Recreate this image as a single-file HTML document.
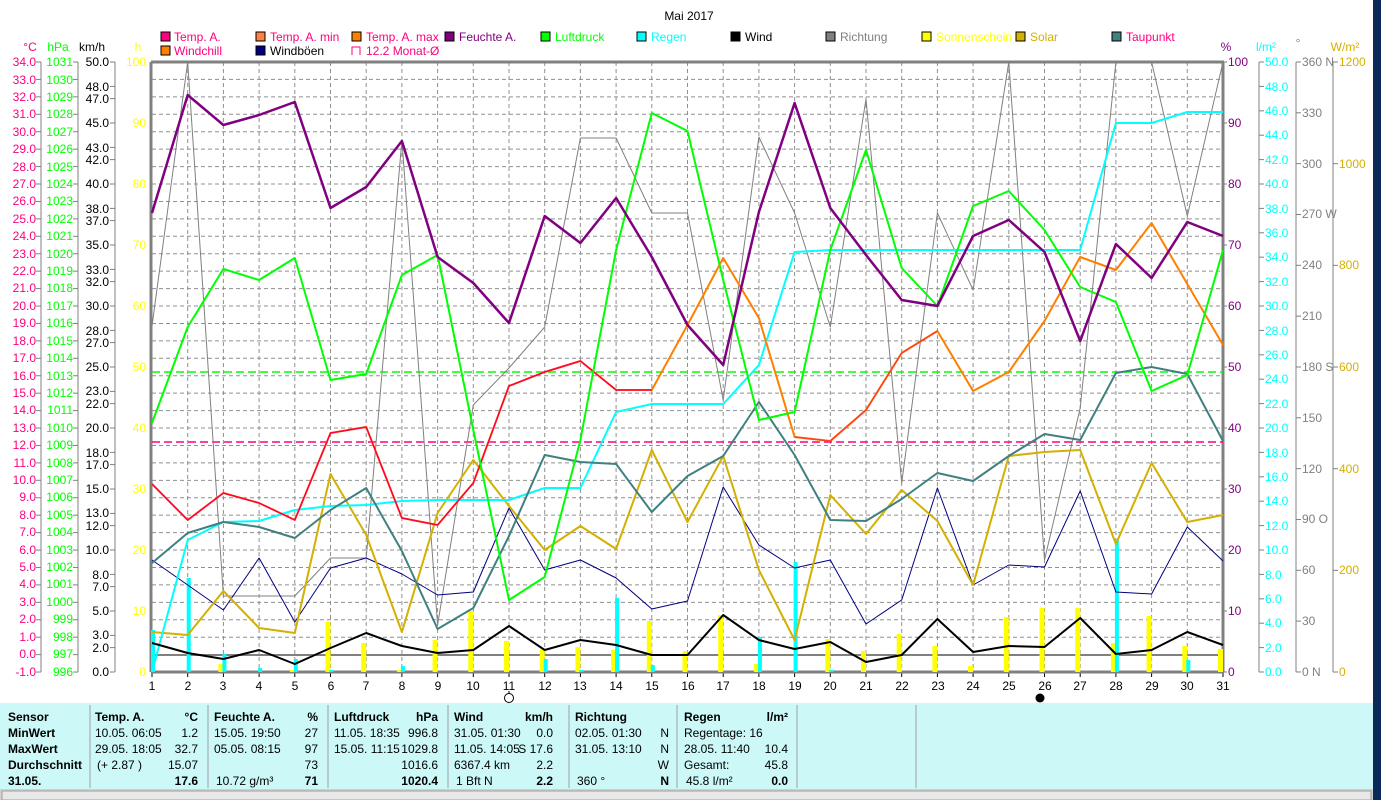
<!DOCTYPE html>
<html><head><meta charset="utf-8"><style>
html,body{margin:0;padding:0;background:#fff;width:1381px;height:800px;overflow:hidden}
svg{display:block}
text{font-family:"Liberation Sans",sans-serif;font-size:12px}
</style></head><body>
<svg id="s" width="1381" height="800" viewBox="0 0 1381 800" xmlns="http://www.w3.org/2000/svg">
<rect x="1373" y="0" width="8" height="800" fill="#0a2a5a"/>
<text x="689" y="20" text-anchor="middle" font-size="14">Mai 2017</text>
<g font-size="12">
<rect x="161" y="32" width="9" height="9" fill="#ff0080" stroke="#000"/><text x="174" y="41" fill="#ff0080">Temp. A.</text>
<rect x="256" y="32" width="9" height="9" fill="#ff8040" stroke="#000"/><text x="270" y="41" fill="#ff0080">Temp. A. min</text>
<rect x="352" y="32" width="9" height="9" fill="#ff8000" stroke="#000"/><text x="366" y="41" fill="#ff0080">Temp. A. max</text>
<rect x="445" y="32" width="9" height="9" fill="#800080" stroke="#000"/><text x="459" y="41" fill="#800080">Feuchte A.</text>
<rect x="541" y="32" width="9" height="9" fill="#00ff00" stroke="#000"/><text x="555" y="41" fill="#00ff00">Luftdruck</text>
<rect x="637" y="32" width="9" height="9" fill="#00ffff" stroke="#000"/><text x="651" y="41" fill="#00ffff">Regen</text>
<rect x="731" y="32" width="9" height="9" fill="#000" stroke="#000"/><text x="745" y="41" fill="#000">Wind</text>
<rect x="826" y="32" width="9" height="9" fill="#808080" stroke="#000"/><text x="840" y="41" fill="#808080">Richtung</text>
<rect x="922" y="32" width="9" height="9" fill="#ffff00" stroke="#000"/><text x="936" y="41" fill="#ffff00">Sonnenschein</text>
<rect x="1016" y="32" width="9" height="9" fill="#d4b000" stroke="#000"/><text x="1030" y="41" fill="#d4b000">Solar</text>
<rect x="1112" y="32" width="9" height="9" fill="#408080" stroke="#000"/><text x="1126" y="41" fill="#ff0080">Taupunkt</text>
<rect x="161" y="46" width="9" height="9" fill="#ff8000" stroke="#000"/><text x="174" y="55" fill="#ff0080">Windchill</text>
<rect x="256" y="46" width="9" height="9" fill="#000080" stroke="#000"/><text x="270" y="55" fill="#000">Windböen</text>
<path d="M352 55V47h8v8" fill="none" stroke="#ff0080"/><text x="366" y="55" fill="#ff0080">12.2 Monat-Ø</text>
</g>
<text x="30" y="51" text-anchor="middle" fill="#ff0080">°C</text>
<text x="58" y="51" text-anchor="middle" fill="#00ff00">hPa</text>
<text x="92" y="51" text-anchor="middle" fill="#000">km/h</text>
<text x="138" y="51" text-anchor="middle" fill="#ffff00">h</text>
<text x="1226" y="51" text-anchor="middle" fill="#800080">%</text>
<text x="1266" y="51" text-anchor="middle" fill="#00ffff">l/m²</text>
<text x="1298" y="47" text-anchor="middle" fill="#808080">°</text>
<text x="1345" y="51" text-anchor="middle" fill="#d4b000">W/m²</text>
<g id="axes"></g>
<g id="grid"></g>
<g id="series"></g>
<g id="days" text-anchor="middle" font-size="12">
<text x="152" y="690">1</text><text x="188" y="690">2</text><text x="223" y="690">3</text><text x="259" y="690">4</text><text x="295" y="690">5</text><text x="331" y="690">6</text><text x="366" y="690">7</text><text x="402" y="690">8</text><text x="438" y="690">9</text><text x="473" y="690">10</text><text x="509" y="690">11</text><text x="545" y="690">12</text><text x="580" y="690">13</text><text x="616" y="690">14</text><text x="652" y="690">15</text><text x="688" y="690">16</text><text x="723" y="690">17</text><text x="759" y="690">18</text><text x="795" y="690">19</text><text x="830" y="690">20</text><text x="866" y="690">21</text><text x="902" y="690">22</text><text x="938" y="690">23</text><text x="973" y="690">24</text><text x="1009" y="690">25</text><text x="1045" y="690">26</text><text x="1080" y="690">27</text><text x="1116" y="690">28</text><text x="1152" y="690">29</text><text x="1187" y="690">30</text><text x="1223" y="690">31</text>
</g>
<circle cx="509" cy="698" r="4.5" fill="none" stroke="#000"/>
<circle cx="1040" cy="698" r="4.5" fill="#000"/>
<g text-anchor="end" fill="#ff0080" font-size="12">
<text x="36" y="66">34.0</text><text x="36" y="84">33.0</text><text x="36" y="101">32.0</text><text x="36" y="118">31.0</text><text x="36" y="136">30.0</text><text x="36" y="153">29.0</text><text x="36" y="171">28.0</text><text x="36" y="188">27.0</text><text x="36" y="205">26.0</text><text x="36" y="223">25.0</text><text x="36" y="240">24.0</text><text x="36" y="258">23.0</text><text x="36" y="275">22.0</text><text x="36" y="292">21.0</text><text x="36" y="310">20.0</text><text x="36" y="327">19.0</text><text x="36" y="345">18.0</text><text x="36" y="362">17.0</text><text x="36" y="380">16.0</text><text x="36" y="397">15.0</text><text x="36" y="414">14.0</text><text x="36" y="432">13.0</text><text x="36" y="449">12.0</text><text x="36" y="467">11.0</text><text x="36" y="484">10.0</text><text x="36" y="501">9.0</text><text x="36" y="519">8.0</text><text x="36" y="536">7.0</text><text x="36" y="554">6.0</text><text x="36" y="571">5.0</text><text x="36" y="588">4.0</text><text x="36" y="606">3.0</text><text x="36" y="623">2.0</text><text x="36" y="641">1.0</text><text x="36" y="658">0.0</text><text x="36" y="676">-1.0</text>
</g>
<g text-anchor="end" fill="#00ff00" font-size="12">
<text x="73" y="66">1031</text><text x="73" y="84">1030</text><text x="73" y="101">1029</text><text x="73" y="118">1028</text><text x="73" y="136">1027</text><text x="73" y="153">1026</text><text x="73" y="171">1025</text><text x="73" y="188">1024</text><text x="73" y="205">1023</text><text x="73" y="223">1022</text><text x="73" y="240">1021</text><text x="73" y="258">1020</text><text x="73" y="275">1019</text><text x="73" y="292">1018</text><text x="73" y="310">1017</text><text x="73" y="327">1016</text><text x="73" y="345">1015</text><text x="73" y="362">1014</text><text x="73" y="380">1013</text><text x="73" y="397">1012</text><text x="73" y="414">1011</text><text x="73" y="432">1010</text><text x="73" y="449">1009</text><text x="73" y="467">1008</text><text x="73" y="484">1007</text><text x="73" y="501">1006</text><text x="73" y="519">1005</text><text x="73" y="536">1004</text><text x="73" y="554">1003</text><text x="73" y="571">1002</text><text x="73" y="588">1001</text><text x="73" y="606">1000</text><text x="73" y="623">999</text><text x="73" y="641">998</text><text x="73" y="658">997</text><text x="73" y="676">996</text>
</g>
<g text-anchor="end" fill="#000" font-size="12">
<text x="109" y="66">50.0</text><text x="109" y="91">48.0</text><text x="109" y="103">47.0</text><text x="109" y="127">45.0</text><text x="109" y="152">43.0</text><text x="109" y="164">42.0</text><text x="109" y="188">40.0</text><text x="109" y="213">38.0</text><text x="109" y="225">37.0</text><text x="109" y="249">35.0</text><text x="109" y="274">33.0</text><text x="109" y="286">32.0</text><text x="109" y="310">30.0</text><text x="109" y="335">28.0</text><text x="109" y="347">27.0</text><text x="109" y="371">25.0</text><text x="109" y="395">23.0</text><text x="109" y="408">22.0</text><text x="109" y="432">20.0</text><text x="109" y="457">18.0</text><text x="109" y="469">17.0</text><text x="109" y="493">15.0</text><text x="109" y="517">13.0</text><text x="109" y="530">12.0</text><text x="109" y="554">10.0</text><text x="109" y="579">8.0</text><text x="109" y="591">7.0</text><text x="109" y="615">5.0</text><text x="109" y="639">3.0</text><text x="109" y="652">2.0</text><text x="109" y="676">0.0</text>
</g>
<g text-anchor="end" fill="#ffff00" font-size="12">
<text x="146" y="66">100</text><text x="146" y="127">90</text><text x="146" y="188">80</text><text x="146" y="249">70</text><text x="146" y="310">60</text><text x="146" y="371">50</text><text x="146" y="432">40</text><text x="146" y="493">30</text><text x="146" y="554">20</text><text x="146" y="615">10</text><text x="146" y="676">0</text>
</g>
<g fill="#800080" font-size="12">
<text x="1228" y="66">100</text><text x="1228" y="127">90</text><text x="1228" y="188">80</text><text x="1228" y="249">70</text><text x="1228" y="310">60</text><text x="1228" y="371">50</text><text x="1228" y="432">40</text><text x="1228" y="493">30</text><text x="1228" y="554">20</text><text x="1228" y="615">10</text><text x="1228" y="676">0</text>
</g>
<g fill="#00ffff" font-size="12">
<text x="1265" y="66">50.0</text><text x="1265" y="91">48.0</text><text x="1265" y="115">46.0</text><text x="1265" y="139">44.0</text><text x="1265" y="164">42.0</text><text x="1265" y="188">40.0</text><text x="1265" y="213">38.0</text><text x="1265" y="237">36.0</text><text x="1265" y="261">34.0</text><text x="1265" y="286">32.0</text><text x="1265" y="310">30.0</text><text x="1265" y="335">28.0</text><text x="1265" y="359">26.0</text><text x="1265" y="383">24.0</text><text x="1265" y="408">22.0</text><text x="1265" y="432">20.0</text><text x="1265" y="457">18.0</text><text x="1265" y="481">16.0</text><text x="1265" y="505">14.0</text><text x="1265" y="530">12.0</text><text x="1265" y="554">10.0</text><text x="1265" y="579">8.0</text><text x="1265" y="603">6.0</text><text x="1265" y="627">4.0</text><text x="1265" y="652">2.0</text><text x="1265" y="676">0.0</text>
</g>
<g fill="#808080" font-size="12">
<text x="1302" y="66">360 N</text><text x="1302" y="117">330</text><text x="1302" y="168">300</text><text x="1302" y="218">270 W</text><text x="1302" y="269">240</text><text x="1302" y="320">210</text><text x="1302" y="371">180 S</text><text x="1302" y="422">150</text><text x="1302" y="473">120</text><text x="1302" y="523">90  O</text><text x="1302" y="574">60</text><text x="1302" y="625">30</text><text x="1302" y="676">0   N</text>
</g>
<g fill="#d4b000" font-size="12">
<text x="1339" y="66">1200</text><text x="1339" y="168">1000</text><text x="1339" y="269">800</text><text x="1339" y="371">600</text><text x="1339" y="473">400</text><text x="1339" y="574">200</text><text x="1339" y="676">0</text>
</g>
<rect x="0" y="703" width="1373" height="87" fill="#ccf8f8"/>
<rect x="0" y="789" width="1373" height="11" fill="#d4d0c8"/>
<rect x="2" y="791" width="1369" height="9" fill="#e8e8e8" stroke="#a0a0a0"/>
<g stroke="#a0a0a0">
<line x1="90" y1="705" x2="90" y2="788"/><line x1="208" y1="705" x2="208" y2="788"/><line x1="328" y1="705" x2="328" y2="788"/><line x1="448" y1="705" x2="448" y2="788"/><line x1="569" y1="705" x2="569" y2="788"/><line x1="677" y1="705" x2="677" y2="788"/><line x1="797" y1="705" x2="797" y2="788"/><line x1="916" y1="705" x2="916" y2="788"/>
</g>
<g font-size="10.5" fill="#000">
<g font-weight="bold"><text x="8" y="721">Sensor</text><text x="8" y="737">MinWert</text><text x="8" y="753">MaxWert</text><text x="8" y="769">Durchschnitt</text><text x="8" y="785">31.05.</text></g>
<text x="95" y="721" font-weight="bold">Temp. A.</text><text x="198" y="721" font-weight="bold" text-anchor="end">°C</text>
<text x="95" y="737">10.05.  06:05</text><text x="198" y="737" text-anchor="end">1.2</text>
<text x="95" y="753">29.05.  18:05</text><text x="198" y="753" text-anchor="end">32.7</text>
<text x="97" y="769">(+ 2.87 )</text><text x="198" y="769" text-anchor="end">15.07</text>
<text x="198" y="785" text-anchor="end" font-weight="bold">17.6</text>
<text x="214" y="721" font-weight="bold">Feuchte A.</text><text x="318" y="721" font-weight="bold" text-anchor="end">%</text>
<text x="214" y="737">15.05.  19:50</text><text x="318" y="737" text-anchor="end">27</text>
<text x="214" y="753">05.05.  08:15</text><text x="318" y="753" text-anchor="end">97</text>
<text x="318" y="769" text-anchor="end">73</text>
<text x="216" y="785">10.72 g/m³</text><text x="318" y="785" text-anchor="end" font-weight="bold">71</text>
<text x="334" y="721" font-weight="bold">Luftdruck</text><text x="438" y="721" font-weight="bold" text-anchor="end">hPa</text>
<text x="334" y="737">11.05.  18:35</text><text x="438" y="737" text-anchor="end">996.8</text>
<text x="334" y="753">15.05.  11:15</text><text x="438" y="753" text-anchor="end">1029.8</text>
<text x="438" y="769" text-anchor="end">1016.6</text>
<text x="438" y="785" text-anchor="end" font-weight="bold">1020.4</text>
<text x="454" y="721" font-weight="bold">Wind</text><text x="553" y="721" font-weight="bold" text-anchor="end">km/h</text>
<text x="454" y="737">31.05.  01:30</text><text x="553" y="737" text-anchor="end">0.0</text>
<text x="454" y="753">11.05.  14:05</text><text x="553" y="753" text-anchor="end">S 17.6</text>
<text x="454" y="769">6367.4 km</text><text x="553" y="769" text-anchor="end">2.2</text>
<text x="456" y="785">1 Bft N</text><text x="553" y="785" text-anchor="end" font-weight="bold">2.2</text>
<text x="575" y="721" font-weight="bold">Richtung</text>
<text x="575" y="737">02.05.  01:30</text><text x="669" y="737" text-anchor="end">N</text>
<text x="575" y="753">31.05.  13:10</text><text x="669" y="753" text-anchor="end">N</text>
<text x="669" y="769" text-anchor="end">W</text>
<text x="577" y="785">360 °</text><text x="669" y="785" text-anchor="end" font-weight="bold">N</text>
<text x="684" y="721" font-weight="bold">Regen</text><text x="788" y="721" font-weight="bold" text-anchor="end">l/m²</text>
<text x="684" y="737">Regentage: 16</text>
<text x="684" y="753">28.05.  11:40</text><text x="788" y="753" text-anchor="end">10.4</text>
<text x="684" y="769">Gesamt:</text><text x="788" y="769" text-anchor="end">45.8</text>
<text x="686" y="785">45.8 l/m²</text><text x="788" y="785" text-anchor="end" font-weight="bold">0.0</text>
</g>
</svg>
<script>
(function(){
var NS="http://www.w3.org/2000/svg";
function el(p,t,a){var e=document.createElementNS(NS,t);for(var k in a)e.setAttribute(k,a[k]);p.appendChild(e);return e;}
var X=[];for(var d=0;d<31;d++)X.push(152+d*35.7);
var g=document.getElementById('grid'),ax=document.getElementById('axes'),s=document.getElementById('series');
for(var i=1;i<35;i++){var y=62+i*17.43;el(g,'line',{x1:152,x2:1223,y1:y,y2:y,stroke:'#909090','stroke-dasharray':'4,3','stroke-width':1});}
for(var d=1;d<30;d++){el(g,'line',{x1:X[d],x2:X[d],y1:62,y2:672,stroke:'#909090','stroke-dasharray':'4,3','stroke-width':1});}
[[41],[78],[115]].forEach(function(a){el(ax,'line',{x1:a[0],x2:a[0],y1:62,y2:672,stroke:'#808080'});});
for(var i=0;i<=35;i++){var y=62+i*17.43;el(ax,'line',{x1:36,x2:41,y1:y,y2:y,stroke:'#808080'});el(ax,'line',{x1:73,x2:78,y1:y,y2:y,stroke:'#808080'});}
[50,48,47,45,43,42,40,38,37,35,33,32,30,28,27,25,23,22,20,18,17,15,13,12,10,8,7,5,3,2,0].forEach(function(v){var y=672-v*12.2;el(ax,'line',{x1:110,x2:115,y1:y,y2:y,stroke:'#808080'});});
[1259,1296,1333].forEach(function(x){el(ax,'line',{x1:x,x2:x,y1:62,y2:672,stroke:'#808080'});});
for(var i=0;i<=10;i++){var y=62+i*61;el(ax,'line',{x1:1223,x2:1227,y1:y,y2:y,stroke:'#808080'});}
for(var i=0;i<=25;i++){var y=62+i*24.4;el(ax,'line',{x1:1259,x2:1264,y1:y,y2:y,stroke:'#808080'});}
for(var i=0;i<=12;i++){var y=62+i*50.83;el(ax,'line',{x1:1296,x2:1301,y1:y,y2:y,stroke:'#808080'});}
for(var i=0;i<=6;i++){var y=62+i*101.67;el(ax,'line',{x1:1333,x2:1338,y1:y,y2:y,stroke:'#808080'});}
for(var d=0;d<31;d++){el(ax,'line',{x1:X[d],x2:X[d],y1:672,y2:677,stroke:'#000'});}
el(ax,'line',{x1:509,x2:509,y1:691,y2:694,stroke:'#000'});
el(g,'line',{x1:151,x2:1224,y1:62,y2:62,stroke:'#808080','stroke-width':3});
el(g,'line',{x1:151,x2:1224,y1:672,y2:672,stroke:'#808080','stroke-width':3});
el(g,'line',{x1:151,x2:151,y1:62,y2:672,stroke:'#808080','stroke-width':3});
el(g,'line',{x1:1223,x2:1223,y1:62,y2:672,stroke:'#808080','stroke-width':3});
el(g,'line',{x1:152,x2:1223,y1:655,y2:655,stroke:'#808080','stroke-width':2});
el(g,'line',{x1:152,x2:1223,y1:372,y2:372,stroke:'#00ff00','stroke-dasharray':'8,4','stroke-width':1.5});
el(g,'line',{x1:152,x2:1223,y1:442,y2:442,stroke:'#ff0080','stroke-dasharray':'8,4','stroke-width':1.5});
var yb=[672,672,664,672,670,622,643,670,640,611,641,650,647,650,621,651,615,664,672,639,651,634,646,666,617,608,608,643,616,646,649];
var cb=[630,578,654,668,659,670,672,666,672,672,672,659,670,598,665,672,672,637,562,670,672,672,672,672,672,672,672,540,672,660,672];
for(var d=0;d<31;d++){if(yb[d]<672)el(s,'rect',{x:X[d]-5,y:yb[d],width:5,height:672-yb[d],fill:'#ffff00'});
if(cb[d]<672)el(s,'rect',{x:X[d]-1,y:cb[d],width:4,height:672-cb[d],fill:'#00ffff'});}
function pl(ys,c,w,from,to){from=from||0;to=to||31;var p=[];for(var d=from;d<to;d++)p.push(X[d].toFixed(1)+','+ys[d]);el(s,'polyline',{points:p.join(' '),fill:'none',stroke:c,'stroke-width':w,'stroke-linejoin':'round'});}
pl([326,62,596,596,596,558,558,140,625,405,368,327,138,138,213,213,400,137,213,327,99,483,213,290,62,560,408,62,62,216,62],'#808080',1);
pl([560,585,610,558,622,568,558,574,595,592,508,570,560,578,609,601,487,545,568,560,624,600,488,585,565,567,491,592,594,527,561],'#000080',1);
pl([632,635,591,628,633,474,535,632,513,460,506,550,526,549,450,522,456,570,640,495,534,490,521,585,456,452,450,544,463,522,515],'#d4b000',2);
pl([672,540,522,521,510,506,505,501,500,500,500,488,488,412,404,404,404,365,252,250,250,250,250,250,250,250,250,123,123,112,112],'#00ffff',2);
pl([563,533,522,527,538,510,488,551,629,608,536,455,462,464,512,476,456,402,455,520,521,499,473,481,456,434,440,373,367,374,441],'#408080',2);
var temp=[484,520,493,503,520,433,427,518,525,483,386,372,361,390,390,325,258,318,437,441,410,353,331,391,372,321,257,270,223,284,345];
pl(temp,'#ff8000',2);
pl(temp,'#ff0040',1.5,0,15);
pl(temp,'#ff4020',1.5,18,23);
pl([423,327,269,280,258,380,374,275,255,430,600,577,440,250,113,131,280,420,412,250,150,268,306,206,191,230,287,302,391,375,250],'#00ff00',2);
pl([213,95,125,115,102,208,187,141,257,283,323,216,243,198,257,325,365,212,103,208,255,300,306,236,220,252,341,244,278,222,236],'#800080',2.5);
pl([643,653,659,650,664,648,633,646,653,650,626,650,640,645,655,655,615,640,649,642,662,655,619,652,646,647,618,654,650,632,645],'#000',2);
})();
</script>
</body></html>
